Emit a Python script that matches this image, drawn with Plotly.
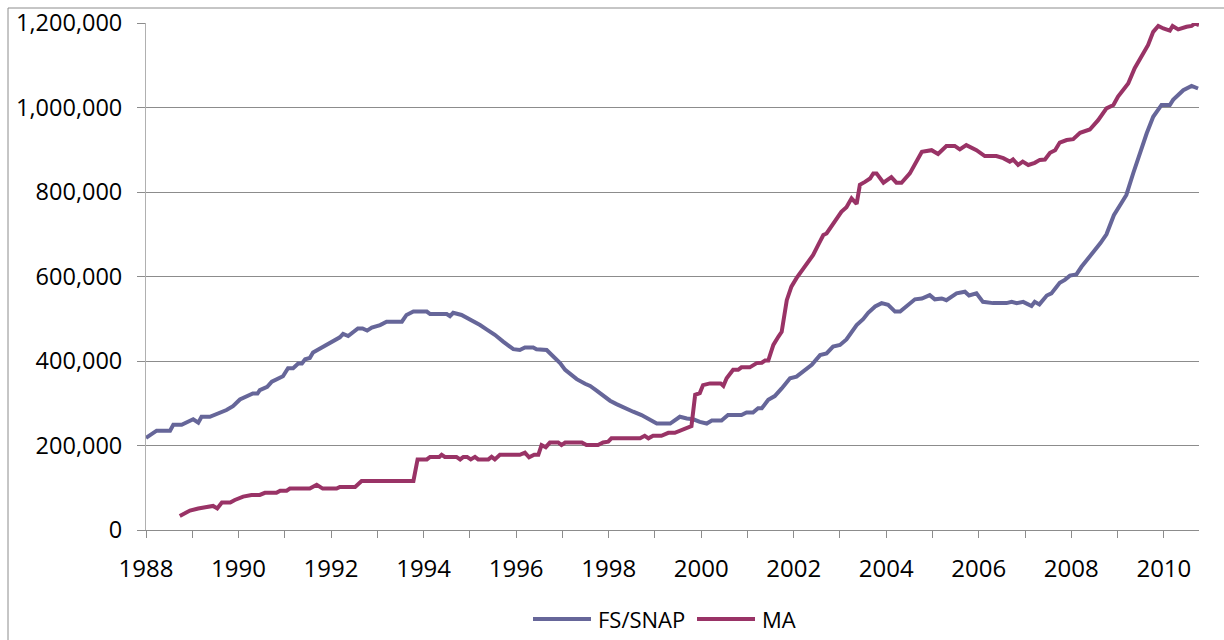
import plotly.graph_objects as go

# FS/SNAP series: (decimal year, thousands of cases)
fs_years = [1988.00, 1988.16, 1988.23, 1988.52, 1988.59, 1988.77, 1989.02, 1989.13, 1989.20, 1989.38,
            1989.74, 1989.88, 1990.03, 1990.31, 1990.41, 1990.46, 1990.62, 1990.72, 1990.96, 1991.07,
            1991.18, 1991.29, 1991.37, 1991.44, 1991.54, 1991.61, 1991.76, 1992.04, 1992.19, 1992.26,
            1992.37, 1992.58, 1992.68, 1992.78, 1992.88, 1993.06, 1993.20, 1993.53, 1993.63, 1993.78,
            1994.07, 1994.14, 1994.50, 1994.57, 1994.64, 1994.82, 1995.00, 1995.22, 1995.36, 1995.54,
            1995.72, 1995.94, 1996.08, 1996.19, 1996.37, 1996.44, 1996.66, 1996.80, 1996.95, 1997.06,
            1997.16, 1997.31, 1997.49, 1997.60, 1997.74, 1997.88, 1998.03, 1998.17, 1998.35, 1998.53,
            1998.71, 1998.89, 1999.04, 1999.33, 1999.54, 1999.69, 1999.83, 1999.97, 2000.12, 2000.23,
            2000.44, 2000.58, 2000.87, 2000.98, 2001.12, 2001.23, 2001.31, 2001.45, 2001.59, 2001.74,
            2001.92, 2002.06, 2002.21, 2002.39, 2002.57, 2002.71, 2002.85, 2003.00, 2003.14, 2003.36,
            2003.50, 2003.61, 2003.76, 2003.90, 2004.04, 2004.19, 2004.30, 2004.47, 2004.62, 2004.77,
            2004.94, 2005.05, 2005.20, 2005.30, 2005.52, 2005.70, 2005.79, 2005.95, 2006.09, 2006.31,
            2006.60, 2006.71, 2006.82, 2006.96, 2007.14, 2007.21, 2007.31, 2007.47, 2007.57, 2007.75,
            2007.86, 2007.97, 2008.11, 2008.22, 2008.43, 2008.63, 2008.76, 2008.92, 2009.10, 2009.19,
            2009.34, 2009.50, 2009.63, 2009.77, 2009.95, 2010.13, 2010.20, 2010.42, 2010.60, 2010.74]
fs_values = [218, 229, 235, 235, 249, 249, 262, 254, 268, 268,
             284, 293, 309, 323, 323, 331, 339, 351, 364, 383,
             383, 394, 394, 404, 407, 420, 430, 446, 456, 464,
             459, 477, 477, 472, 479, 485, 493, 493, 509, 517,
             517, 511, 511, 506, 514, 509, 499, 485, 475, 462,
             446, 428, 426, 432, 432, 428, 426, 412, 395, 379,
             369, 357, 346, 341, 330, 317, 306, 298, 288, 280,
             272, 262, 252, 252, 268, 264, 262, 256, 252, 259,
             259, 272, 272, 278, 278, 288, 288, 308, 317, 335,
             359, 363, 375, 391, 414, 418, 434, 438, 451, 485,
             499, 514, 529, 537, 533, 517, 517, 534, 546, 548,
             556, 546, 548, 544, 560, 564, 555, 560, 540, 537,
             537, 540, 537, 540, 530, 540, 534, 555, 560, 585,
             592, 602, 605, 623, 650, 679, 700, 745, 777, 793,
             845, 899, 939, 978, 1006, 1006, 1018, 1041, 1051, 1045]

# MA series: (decimal year, thousands of cases)
ma_years = [1988.73, 1988.95, 1989.13, 1989.31, 1989.45, 1989.54, 1989.64, 1989.82, 1989.92, 1990.10,
            1990.28, 1990.46, 1990.57, 1990.82, 1990.90, 1991.04, 1991.11, 1991.54, 1991.69, 1991.82,
            1992.12, 1992.19, 1992.52, 1992.66, 1993.78, 1993.87, 1994.07, 1994.14, 1994.34, 1994.39,
            1994.46, 1994.71, 1994.79, 1994.86, 1994.94, 1995.02, 1995.11, 1995.18, 1995.40, 1995.47,
            1995.54, 1995.65, 1996.08, 1996.19, 1996.28, 1996.39, 1996.48, 1996.55, 1996.64, 1996.73,
            1996.91, 1996.98, 1997.06, 1997.42, 1997.52, 1997.77, 1997.88, 1997.99, 1998.06, 1998.68,
            1998.78, 1998.86, 1998.96, 1999.14, 1999.29, 1999.43, 1999.54, 1999.79, 1999.87, 1999.97,
            2000.04, 2000.19, 2000.42, 2000.48, 2000.55, 2000.69, 2000.80, 2000.87, 2001.05, 2001.20,
            2001.31, 2001.38, 2001.45, 2001.56, 2001.67, 2001.74, 2001.85, 2001.95, 2002.06, 2002.21,
            2002.42, 2002.53, 2002.64, 2002.71, 2002.85, 2002.96, 2003.03, 2003.14, 2003.25, 2003.36,
            2003.43, 2003.54, 2003.65, 2003.72, 2003.79, 2003.94, 2004.11, 2004.22, 2004.33, 2004.51,
            2004.62, 2004.77, 2004.98, 2005.12, 2005.30, 2005.48, 2005.59, 2005.73, 2005.95, 2006.13,
            2006.38, 2006.53, 2006.67, 2006.74, 2006.85, 2006.95, 2007.07, 2007.21, 2007.32, 2007.43,
            2007.54, 2007.65, 2007.75, 2007.90, 2008.04, 2008.19, 2008.40, 2008.58, 2008.76, 2008.91,
            2009.01, 2009.23, 2009.37, 2009.55, 2009.66, 2009.77, 2009.88, 2009.99, 2010.13, 2010.19,
            2010.31, 2010.49, 2010.60, 2010.67, 2010.76]
ma_values = [33, 46, 51, 54, 57, 51, 65, 65, 71, 79,
             83, 83, 88, 88, 93, 93, 98, 98, 107, 98,
             98, 102, 102, 116, 116, 167, 167, 173, 173, 178,
             173, 173, 167, 173, 173, 167, 173, 167, 167, 173,
             167, 178, 178, 183, 172, 178, 178, 201, 196, 207,
             207, 201, 207, 207, 201, 201, 207, 209, 217, 217,
             223, 217, 223, 223, 230, 230, 235, 246, 320, 324,
             343, 347, 347, 341, 359, 379, 379, 385, 385, 395,
             396, 401, 401, 438, 458, 469, 544, 576, 596, 619,
             651, 675, 698, 702, 724, 738, 753, 764, 785, 772,
             817, 824, 832, 844, 844, 822, 835, 822, 822, 844,
             864, 895, 899, 890, 909, 909, 901, 911, 899, 885,
             885, 880, 872, 877, 864, 872, 864, 869, 876, 877,
             893, 899, 917, 923, 925, 940, 948, 970, 998, 1006,
             1026, 1057, 1093, 1128, 1148, 1179, 1193, 1187, 1182, 1193,
             1185, 1191, 1193, 1199, 1195]

series_names = ["FS/SNAP", "MA"]
series_colors = ["#666699", "#993366"]

year_ticks = list(range(1988, 2011))
year_labels = [str(y) if (y - 1988) % 2 == 0 else "" for y in year_ticks]

FONT = "Open Sans"
GRID = "#8c8c8c"

fig = go.Figure()
fig.add_trace(go.Scatter(x=fs_years, y=[v * 1000 for v in fs_values], mode="lines",
                         name=series_names[0], line=dict(color=series_colors[0], width=4),
                         showlegend=False))
fig.add_trace(go.Scatter(x=ma_years, y=[v * 1000 for v in ma_values], mode="lines",
                         name=series_names[1], line=dict(color=series_colors[1], width=4),
                         showlegend=False))

L, R, T, B = 146, 25, 23, 110
W, H = 1224, 640
pw, ph = W - L - R, H - T - B


def px(xp):
    return (xp - L) / pw


def py(yp):
    return (H - B - yp) / ph


fig.update_layout(
    width=W, height=H,
    margin=dict(l=L, r=R, t=T, b=B, autoexpand=False),
    paper_bgcolor="white", plot_bgcolor="white",
    font=dict(family=FONT, size=24, color="black"),
    showlegend=False,
    xaxis=dict(range=[1988, 2010.76], tickmode="array", tickvals=year_ticks, ticktext=year_labels,
               showgrid=False, showline=True, linecolor=GRID, linewidth=1,
               ticks="outside", ticklen=7, tickcolor=GRID, zeroline=False,
               tickfont=dict(size=24), ticklabelstandoff=10, automargin=False),
    yaxis=dict(range=[0, 1200000], dtick=200000, tickformat=",d",
               showgrid=True, gridcolor=GRID, gridwidth=1,
               showline=True, linecolor="#b0b0b0", linewidth=1,
               ticks="outside", ticklen=8, tickcolor=GRID, zeroline=False,
               tickfont=dict(size=23.5), ticklabelstandoff=10, automargin=False),
)

# outer chart border (Excel chart area)
fig.add_shape(type="rect", xref="paper", yref="paper",
              x0=px(8), x1=px(1240), y0=py(660), y1=py(8),
              line=dict(color="#8c8c8c", width=1), fillcolor="rgba(0,0,0,0)", layer="below")

# legend drawn as Excel-style long line samples with text
legend_items = [(533, 591, 596), (697, 755, 760)]
for (x0, x1, xt), name, col in zip(legend_items, series_names, series_colors):
    fig.add_shape(type="line", xref="paper", yref="paper",
                  x0=px(x0), x1=px(x1), y0=py(619), y1=py(619),
                  line=dict(color=col, width=4))
    fig.add_annotation(xref="paper", yref="paper", x=px(xt), y=py(619),
                       text=name, showarrow=False, xanchor="left", yanchor="middle",
                       font=dict(size=22, family=FONT, color="black"))

fig.write_html("out.html", config={"displayModeBar": False},
               post_script="document.body.style.margin='0';document.body.style.overflow='hidden';")
